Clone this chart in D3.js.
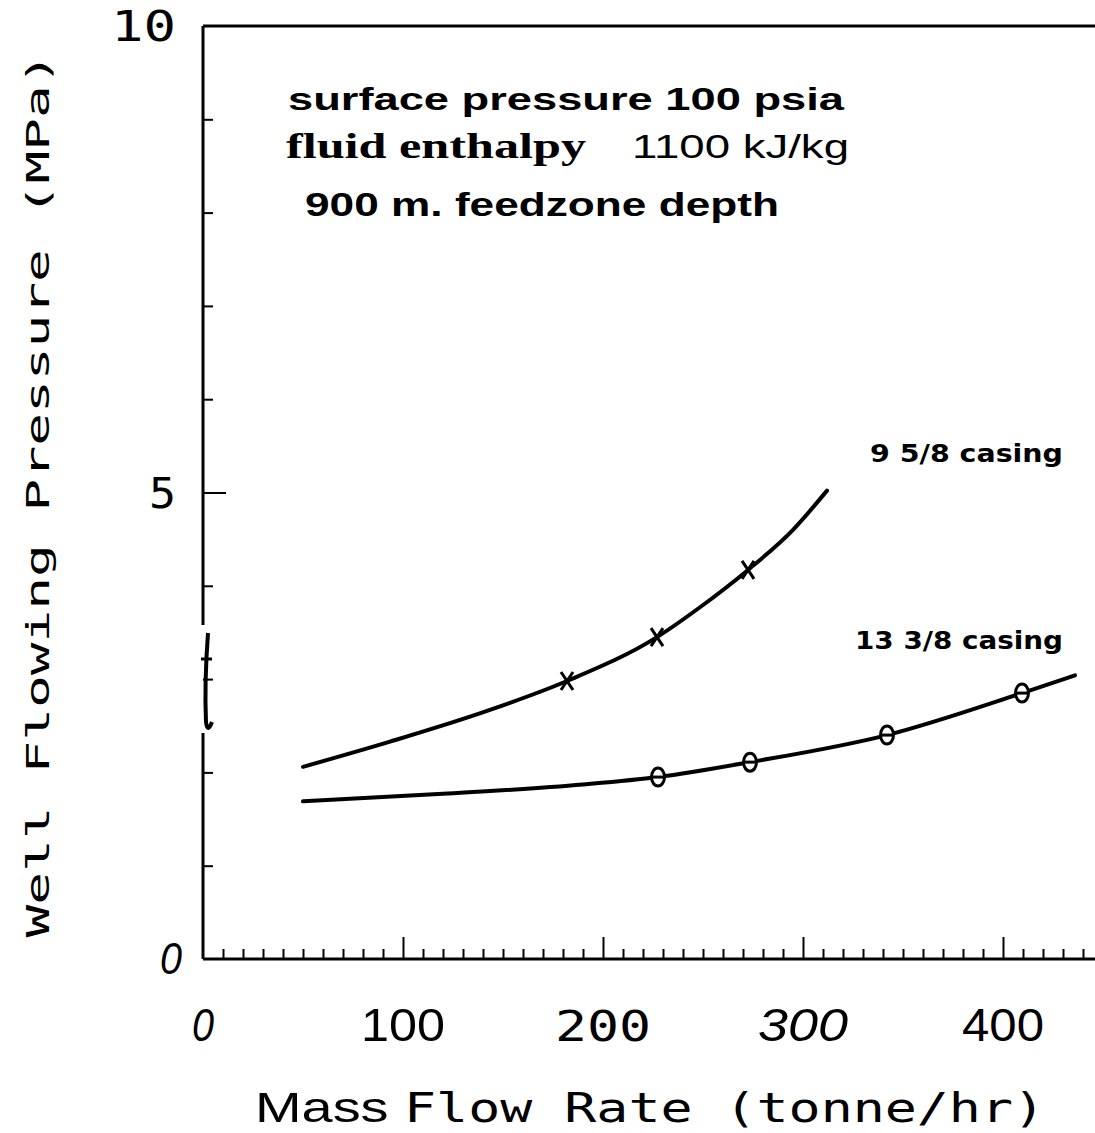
<!DOCTYPE html>
<html><head><meta charset="utf-8">
<script src="https://cdn.jsdelivr.net/npm/d3@7"></script>
<style>
body{margin:0;background:#fff}
svg{display:block}
</style></head>
<body>
<svg id="c" width="1095" height="1133"></svg>
<script>
// ---- data ----
const casing958X = [50, 93.5, 143.5, 182, 227, 248.5, 272.5, 295, 312];
const casing958Y = [2.06, 2.33, 2.67, 2.98, 3.45, 3.77, 4.17, 4.60, 5.02];
const casing958MarkX = [182, 227, 272.5];
const casing958MarkY = [2.98, 3.45, 4.17];

const casing1338X = [50, 120, 190, 227.5, 273.5, 342, 409.5, 436];
const casing1338Y = [1.69, 1.77, 1.87, 1.95, 2.11, 2.40, 2.85, 3.04];
const casing1338MarkX = [227.5, 273.5, 342, 409.5];
const casing1338MarkY = [1.95, 2.11, 2.40, 2.85];

const xTickLabels = ["0", "100", "200", "300", "400"];
const xTickValues = [0, 100, 200, 300, 400];
const yTickLabels = ["0", "5", "10"];
const yTickValues = [0, 5, 10];
const seriesLabels = ["9 5/8 casing", "13 3/8 casing"];
const noteLines = ["surface pressure 100 psia", "fluid enthalpy", "1100 kJ/kg", "900 m. feedzone depth"];

// ---- layout ----
const svg = d3.select("#c");
const x = d3.scaleLinear().domain([0, 446]).range([203, 1095]);
const y = d3.scaleLinear().domain([0, 10]).range([959, 26]);
const ink = "#000";

// frame: top line
svg.append("line").attr("x1", x(0)).attr("x2", 1095).attr("y1", y(10)).attr("y2", y(10))
  .attr("stroke", ink).attr("stroke-width", 3);

// x axis (ticks point up, inward)
const xAxis = d3.axisTop(x).tickValues(d3.range(10, 446, 10)).tickSize(10).tickFormat("");
const gx = svg.append("g").attr("transform", `translate(0,${y(0)})`).call(xAxis);
gx.select(".domain").remove();
gx.selectAll(".tick line").attr("stroke", ink).attr("stroke-width", 2)
  .attr("y2", d => (d % 100 === 0 ? -22 : -10));
svg.append("line").attr("x1", x(0)).attr("x2", 1095).attr("y1", y(0)).attr("y2", y(0))
  .attr("stroke", ink).attr("stroke-width", 3);

// y axis (ticks point right, inward)
const yAxis = d3.axisRight(y).tickValues(d3.range(1, 10)).tickSize(10).tickFormat("");
const gy = svg.append("g").attr("transform", `translate(${x(0)},0)`).call(yAxis);
gy.select(".domain").remove();
gy.selectAll(".tick line").attr("stroke", ink).attr("stroke-width", 2)
  .attr("x2", d => (d === 5 ? 23 : 10));
// y axis line with a break
svg.append("line").attr("x1", x(0)).attr("x2", x(0)).attr("y1", y(10)).attr("y2", 625)
  .attr("stroke", ink).attr("stroke-width", 3);
svg.append("line").attr("x1", x(0)).attr("x2", x(0)).attr("y1", 733).attr("y2", y(0))
  .attr("stroke", ink).attr("stroke-width", 3);
// break squiggle
svg.append("path")
  .attr("d", "M208,633 C206,660 205,700 206,722 C207,730 209,730 212,722")
  .attr("fill", "none").attr("stroke", ink).attr("stroke-width", 4);
svg.append("line").attr("x1", 201).attr("x2", 212).attr("y1", 659).attr("y2", 659)
  .attr("stroke", ink).attr("stroke-width", 3);

// tick labels
const xLabStyle = [
  {font: "Liberation Sans", style: "italic", w: 22},
  {font: "Liberation Sans", style: "normal", w: 84},
  {font: "DejaVu Sans Mono", style: "normal", w: 96},
  {font: "Liberation Sans", style: "italic", w: 90},
  {font: "Liberation Sans", style: "normal", w: 82}
];
svg.append("g").selectAll("text").data(xTickValues).join("text")
  .attr("x", d => x(d)).attr("y", 1041)
  .attr("text-anchor", "middle")
  .attr("font-family", (d, i) => xLabStyle[i].font)
  .attr("font-style", (d, i) => xLabStyle[i].style)
  .attr("font-size", (d, i) => i === 2 ? 42 : 46)
  .attr("textLength", (d, i) => xLabStyle[i].w).attr("lengthAdjust", "spacingAndGlyphs")
  .text((d, i) => xTickLabels[i]);

const yLabStyle = [
  {font: "Liberation Sans", style: "italic", x: 182, w: 22, size: 44},
  {font: "DejaVu Sans Mono", style: "normal", x: 176, w: 27, size: 42},
  {font: "DejaVu Sans Mono", style: "normal", x: 176, w: 65, size: 42}
];
svg.append("g").selectAll("text").data(yTickValues).join("text")
  .attr("x", (d, i) => yLabStyle[i].x).attr("y", d => y(d) + 15)
  .attr("text-anchor", "end")
  .attr("font-family", (d, i) => yLabStyle[i].font)
  .attr("font-style", (d, i) => yLabStyle[i].style)
  .attr("font-size", (d, i) => yLabStyle[i].size)
  .attr("textLength", (d, i) => yLabStyle[i].w).attr("lengthAdjust", "spacingAndGlyphs")
  .text((d, i) => yTickLabels[i]);

// axis titles
svg.append("text")
  .attr("transform", "translate(49,495) rotate(-90)")
  .attr("text-anchor", "middle")
  .attr("font-family", "DejaVu Sans Mono").attr("font-size", 32)
  .attr("textLength", 885).attr("lengthAdjust", "spacingAndGlyphs")
  .text("Well Flowing Pressure (MPa)");

const xt = svg.append("text").attr("x", 255).attr("y", 1122)
  .attr("font-size", 40).attr("textLength", 790).attr("lengthAdjust", "spacingAndGlyphs");
xt.append("tspan").attr("font-family", "Liberation Sans").attr("font-size", 42).text("Mass ");
xt.append("tspan").attr("font-family", "DejaVu Sans Mono").text("Flow Rate (tonne/hr)");

// annotation block
svg.append("text").attr("x", 288).attr("y", 110)
  .attr("font-family", "Liberation Sans").attr("font-weight", "bold").attr("font-size", 32)
  .attr("textLength", 556).attr("lengthAdjust", "spacingAndGlyphs").text(noteLines[0]);
svg.append("text").attr("x", 286).attr("y", 158)
  .attr("font-family", "Liberation Serif").attr("font-weight", "bold").attr("font-size", 36)
  .attr("textLength", 300).attr("lengthAdjust", "spacingAndGlyphs").text(noteLines[1]);
svg.append("text").attr("x", 632).attr("y", 158)
  .attr("font-family", "Liberation Sans").attr("font-size", 33)
  .attr("textLength", 217).attr("lengthAdjust", "spacingAndGlyphs").text(noteLines[2]);
svg.append("text").attr("x", 305).attr("y", 216)
  .attr("font-family", "Liberation Sans").attr("font-weight", "bold").attr("font-size", 34)
  .attr("textLength", 474).attr("lengthAdjust", "spacingAndGlyphs").text(noteLines[3]);

// curves
const line = d3.line().x(d => x(d[0])).y(d => y(d[1])).curve(d3.curveMonotoneX);
const c1 = casing958X.map((v, i) => [v, casing958Y[i]]);
const c2 = casing1338X.map((v, i) => [v, casing1338Y[i]]);
svg.append("path").datum(c1).attr("d", line).attr("fill", "none").attr("stroke", ink)
  .attr("stroke-width", 4).attr("stroke-linecap", "round");
svg.append("path").datum(c2).attr("d", line).attr("fill", "none").attr("stroke", ink)
  .attr("stroke-width", 4).attr("stroke-linecap", "round");

// X markers
const m1 = casing958MarkX.map((v, i) => [v, casing958MarkY[i]]);
svg.append("g").selectAll("path").data(m1).join("path")
  .attr("transform", d => `translate(${x(d[0])},${y(d[1])})`)
  .attr("d", "M-6,-9 L6,9 M6,-9 L-6,9")
  .attr("stroke", ink).attr("stroke-width", 3).attr("fill", "none");

// theta markers
const m2 = casing1338MarkX.map((v, i) => [v, casing1338MarkY[i]]);
const gm = svg.append("g").selectAll("g").data(m2).join("g")
  .attr("transform", d => `translate(${x(d[0])},${y(d[1])})`);
gm.append("ellipse").attr("rx", 6.5).attr("ry", 9).attr("fill", "#fff")
  .attr("stroke", ink).attr("stroke-width", 3);
gm.append("line").attr("x1", -6.5).attr("x2", 6.5).attr("y1", 0).attr("y2", 0)
  .attr("stroke", ink).attr("stroke-width", 3);

// series labels
svg.append("text").attr("x", 870).attr("y", 462)
  .attr("font-family", "DejaVu Sans").attr("font-weight", "bold").attr("font-size", 24)
  .attr("textLength", 193).attr("lengthAdjust", "spacingAndGlyphs").text(seriesLabels[0]);
svg.append("text").attr("x", 855).attr("y", 649)
  .attr("font-family", "DejaVu Sans").attr("font-weight", "bold").attr("font-size", 24)
  .attr("textLength", 208).attr("lengthAdjust", "spacingAndGlyphs").text(seriesLabels[1]);
</script>
</body></html>
